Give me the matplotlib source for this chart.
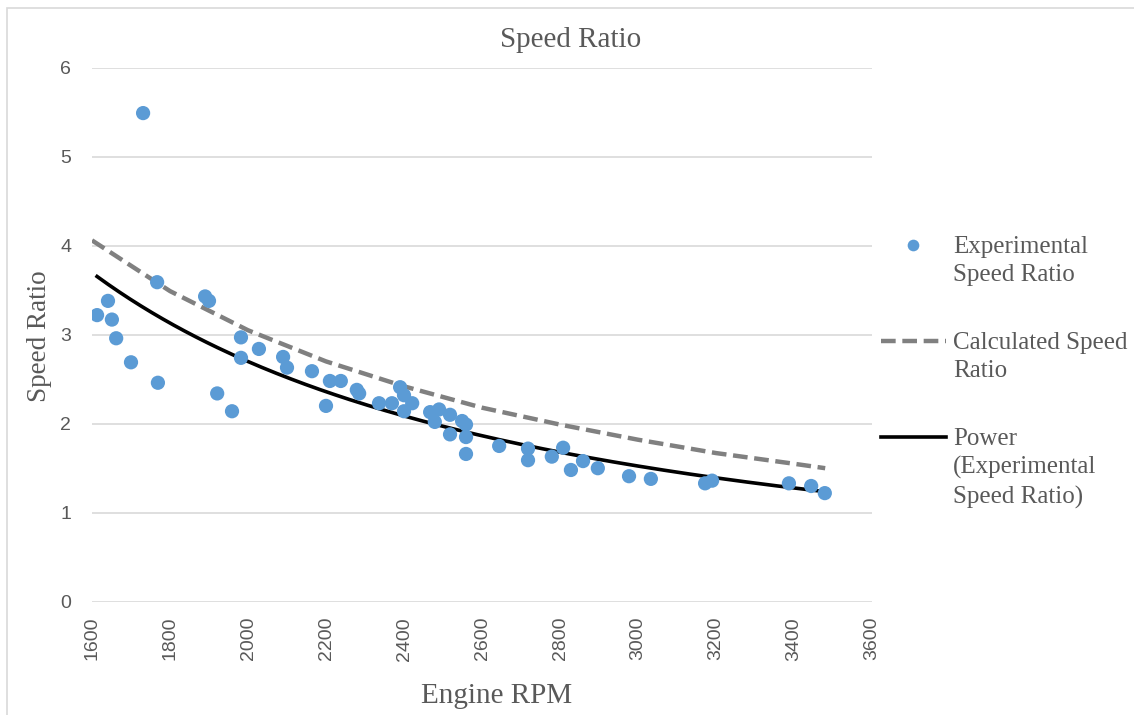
import numpy as np
import matplotlib
matplotlib.use("Agg")
from matplotlib import pyplot as plt
from matplotlib.lines import Line2D
from matplotlib.patches import Rectangle

# Experimental measurements (engine rpm vs speed ratio)
rpm = [1613, 1641, 1651, 1662, 1700, 1731, 1767, 1769, 1890, 1900,
       1921, 1959, 1982, 1982, 2028, 2090, 2100, 2164, 2200, 2210,
       2238, 2279, 2285, 2336, 2369, 2390, 2400, 2400, 2421, 2467,
       2479, 2490, 2518, 2518, 2549, 2559, 2559, 2559, 2644, 2718,
       2718, 2779, 2808, 2828, 2859, 2897, 2977, 3033, 3172, 3190,
       3387, 3444, 3479]
speed_ratio = [3.22, 3.38, 3.17, 2.96, 2.69, 5.49, 3.59, 2.46, 3.43, 3.38,
               2.34, 2.14, 2.97, 2.74, 2.84, 2.75, 2.63, 2.59, 2.20, 2.48,
               2.48, 2.38, 2.34, 2.23, 2.23, 2.41, 2.32, 2.14, 2.23, 2.13,
               2.02, 2.16, 2.10, 1.88, 2.03, 1.99, 1.85, 1.66, 1.75, 1.72,
               1.59, 1.63, 1.73, 1.48, 1.58, 1.50, 1.41, 1.38, 1.33, 1.36,
               1.33, 1.30, 1.22]

# Calculated speed ratio curve
calc_rpm = [1600, 1800, 2000, 2200, 2400, 2600, 2800, 3000, 3200, 3400, 3480]
calc_ratio = [4.06, 3.49, 3.05, 2.70, 2.42, 2.18, 1.99, 1.82, 1.67, 1.55, 1.50]

x_ticks = [1600, 1800, 2000, 2200, 2400, 2600, 2800, 3000, 3200, 3400, 3600]
y_ticks = [0, 1, 2, 3, 4, 5, 6]

text_gray = "#595959"
blue = "#5B9BD5"
dash_gray = "#808080"

# power trendline fitted on the experimental data (like Excel)
b, log_a = np.polyfit(np.log(rpm), np.log(speed_ratio), 1)
fit_x = np.linspace(min(rpm), max(rpm), 200)
fit_y = np.exp(log_a) * fit_x ** b

fig = plt.figure(figsize=(11.34, 7.15), dpi=100)
ax = fig.add_axes([92 / 1134, 1 - 601.7 / 715, 780 / 1134, 534 / 715])

ax.plot(calc_rpm, calc_ratio, color=dash_gray, lw=3.2, dashes=(3.3, 1.5), zorder=3)
ax.plot(fit_x, fit_y, color="black", lw=2.6, zorder=4)
ax.scatter(rpm, speed_ratio, s=105, color=blue, edgecolors="none", zorder=5)

ax.set_xlim(1600, 3600)
ax.set_ylim(0, 6)
ax.set_xticks(x_ticks)
ax.set_yticks(y_ticks)
ax.set_xticklabels([str(t) for t in x_ticks], rotation=90)
ax.grid(axis="y", color="#d9d9d9", lw=1.2)
ax.set_axisbelow(True)
for s in ax.spines.values():
    s.set_visible(False)
ax.tick_params(axis="both", length=0, labelsize=14, colors=text_gray)
ax.tick_params(axis="x", pad=11)
ax.tick_params(axis="y", pad=15)
for lab in ax.get_xticklabels() + ax.get_yticklabels():
    lab.set_fontfamily("Liberation Sans")

serif = "Liberation Serif"
fig.text(571 / 1134, 1 - 40 / 715, "Speed Ratio", ha="center", va="center",
         fontsize=21, family=serif, color=text_gray)
fig.text(40 / 1134, 1 - 336 / 715, "Speed Ratio", ha="center", va="center",
         rotation=90, fontsize=19.5, family=serif, color=text_gray)
fig.text(497 / 1134, 1 - 696 / 715, "Engine RPM", ha="center", va="center",
         fontsize=21, family=serif, color=text_gray)

# legend drawn on the right
W, H = 1134, 715
def fx(p):
    return p / W
def fy(p):
    return 1 - p / H

fig.add_artist(Line2D([fx(913)], [fy(245)], marker="o", markersize=8.4,
                      color=blue, markeredgewidth=0, linestyle="none"))
fig.add_artist(Line2D([fx(881), fx(946)], [fy(341), fy(341)], color=dash_gray,
                      lw=3.2, dashes=(3.3, 1.5)))
fig.add_artist(Line2D([fx(881), fx(946)], [fy(437), fy(437)], color="black", lw=2.6))
legend_items = [(245, "Experimental\nSpeed Ratio"),
                (341, "Calculated Speed\nRatio"),
                (437, "Power\n(Experimental\nSpeed Ratio)")]
for ypos, txt in legend_items:
    fig.text(fx(953), fy(ypos - 9), txt, ha="left", va="top", fontsize=18,
             family=serif, color=text_gray, linespacing=1.36)

# chart border
fig.add_artist(Rectangle((fx(7), -0.1), 1.2, fy(8) + 0.1, fill=False,
                         edgecolor="#d9d9d9", lw=1.2))

fig.savefig("out.png", dpi=100)
